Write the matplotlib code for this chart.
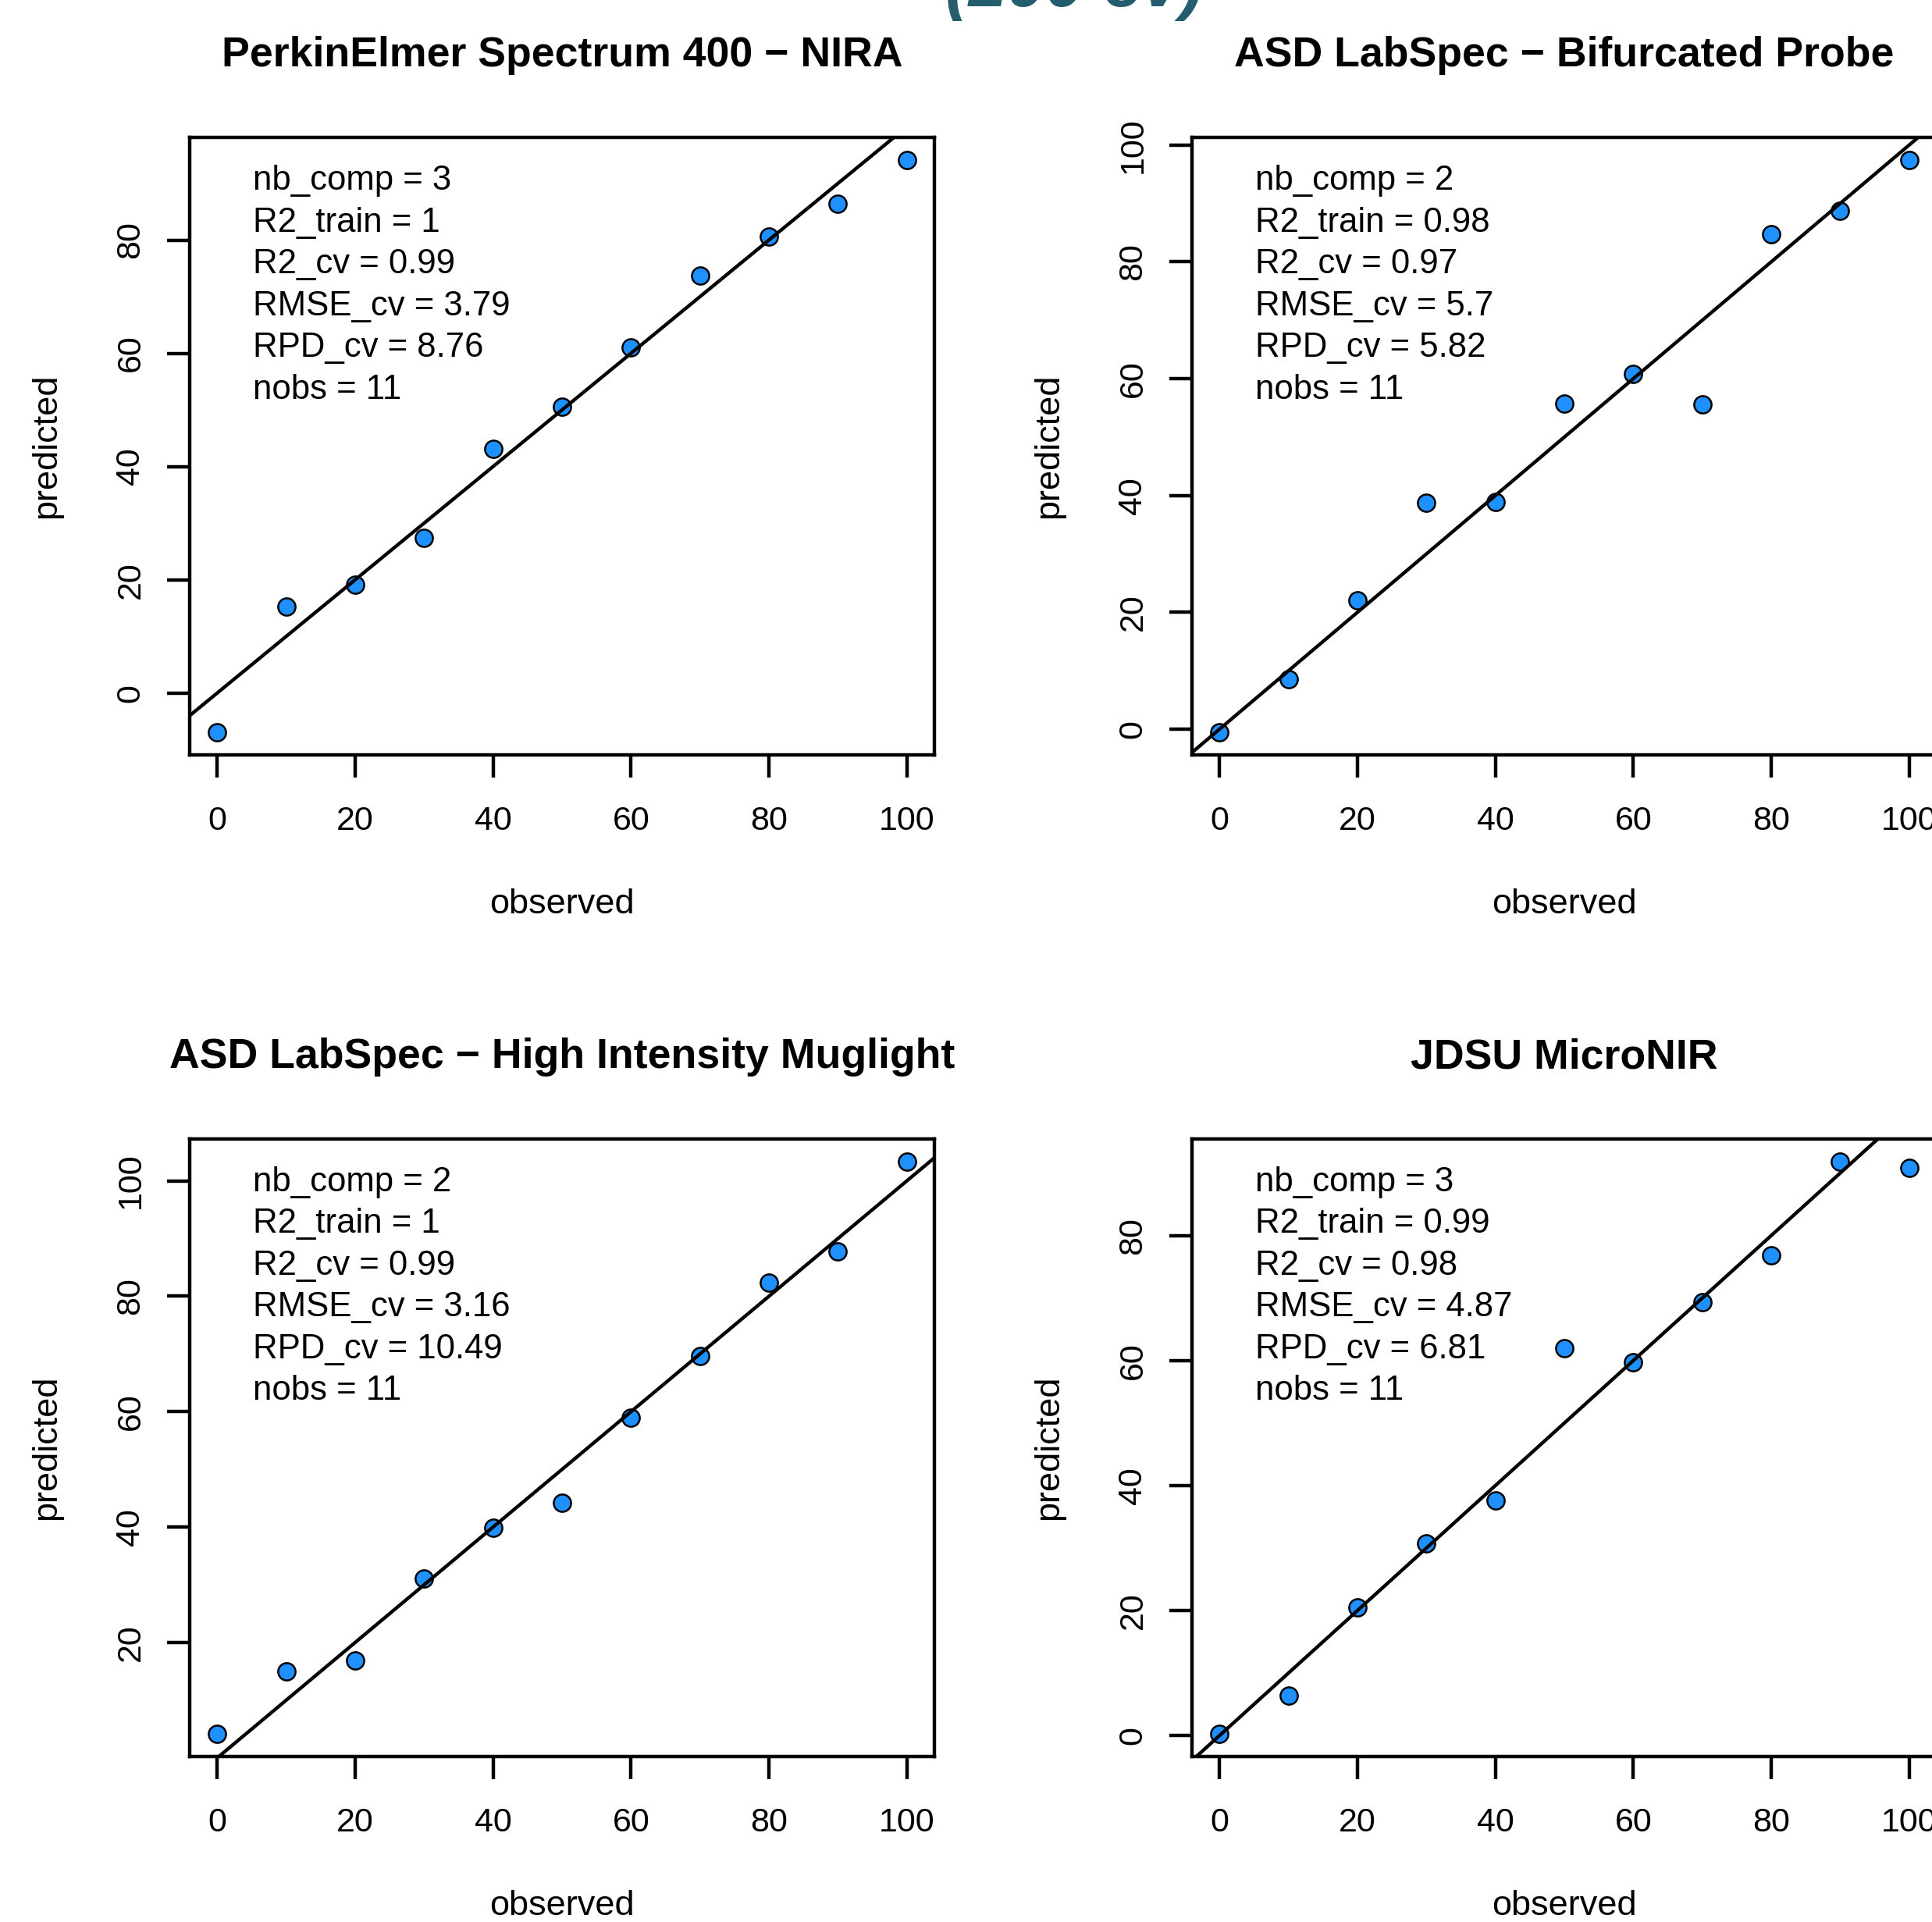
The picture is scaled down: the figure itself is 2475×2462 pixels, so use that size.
import matplotlib.pyplot as plt
from matplotlib.ticker import MultipleLocator

plt.rcParams['font.family'] = ['Liberation Sans', 'DejaVu Sans']

observed = [0, 10, 20, 30, 40, 50, 60, 70, 80, 90, 100]

titles = [
    "PerkinElmer Spectrum 400 \u2212 NIRA",
    "ASD LabSpec \u2212 Bifurcated Probe",
    "ASD LabSpec \u2212 High Intensity Muglight",
    "JDSU MicroNIR",
]

pred_nira = [-6.9, 15.3, 19.1, 27.4, 43.1, 50.5, 61.0, 73.8, 80.6, 86.4, 94.1]
pred_bifurcated = [-0.5, 8.6, 22.1, 38.8, 38.9, 55.8, 60.8, 55.6, 84.8, 88.7, 97.4]
pred_muglight = [4.2, 15.0, 16.9, 31.1, 39.9, 44.2, 59.0, 69.7, 82.4, 87.8, 103.3]
pred_micronir = [0.3, 6.4, 20.5, 30.7, 37.6, 62.0, 59.7, 69.3, 76.8, 91.8, 90.8]
predicted = [pred_nira, pred_bifurcated, pred_muglight, pred_micronir]

nb_comp = ["3", "2", "2", "3"]
r2_train = ["1", "0.98", "1", "0.99"]
r2_cv = ["0.99", "0.97", "0.99", "0.98"]
rmse_cv = ["3.79", "5.7", "3.16", "4.87"]
rpd_cv = ["8.76", "5.82", "10.49", "6.81"]
nobs = ["11", "11", "11", "11"]

W, H = 2475, 2462
fig = plt.figure(figsize=(W / 100, H / 100), dpi=100)

# axes boxes in pixels: left, top
box_w, box_h = 954, 791
corners = [(243, 176), (1527, 176), (243, 1459), (1527, 1459)]

fig.text(1376 / W, 1 - 8 / H, "(200 cv)", ha="center", va="baseline",
         fontsize=64, fontweight="bold", fontstyle="italic", color="#245e6e")

for i, (left, top) in enumerate(corners):
    ax = fig.add_axes([left / W, 1 - (top + box_h) / H, box_w / W, box_h / H])
    ax.plot(observed, predicted[i], linestyle="none", marker="o", markersize=16,
            markerfacecolor="#1e90ff", markeredgecolor="black", markeredgewidth=1.8,
            zorder=2)
    ax.margins(0.04)
    ax.autoscale_view()
    ax.set_xlim(ax.get_xlim())
    ax.set_ylim(ax.get_ylim())
    ax.axline((0, 0), slope=1, color="black", lw=3.2, zorder=3)

    ax.xaxis.set_major_locator(MultipleLocator(20))
    ax.yaxis.set_major_locator(MultipleLocator(20))
    ax.tick_params(direction="out", length=21, width=3.2, labelsize=31, pad=26)
    ax.tick_params(axis="y", pad=19)
    plt.setp(ax.get_yticklabels(), rotation=90, va="center")
    for sp in ax.spines.values():
        sp.set_linewidth(3.2)

    ax.set_title(titles[i], fontsize=38.6, fontweight="bold", pad=65.5)

    ax.set_xlabel("observed", fontsize=32.5)
    ax.xaxis.label.set_verticalalignment("baseline")
    ax.xaxis.set_label_coords(0.5, -203 / box_h)
    ax.text(-172 / box_w, 0.5, "predicted", fontsize=32.5, rotation=90,
            rotation_mode="anchor", ha="center", va="baseline",
            transform=ax.transAxes)

    lines = [
        f"nb_comp = {nb_comp[i]}",
        f"R2_train = {r2_train[i]}",
        f"R2_cv = {r2_cv[i]}",
        f"RMSE_cv = {rmse_cv[i]}",
        f"RPD_cv = {rpd_cv[i]}",
        f"nobs = {nobs[i]}",
    ]
    for k, s in enumerate(lines):
        ax.text(81 / box_w, 1 - (67 + 53.5 * k) / box_h, s, fontsize=31.5,
                ha="left", va="baseline", transform=ax.transAxes)

fig.savefig("out.png", dpi=100)
